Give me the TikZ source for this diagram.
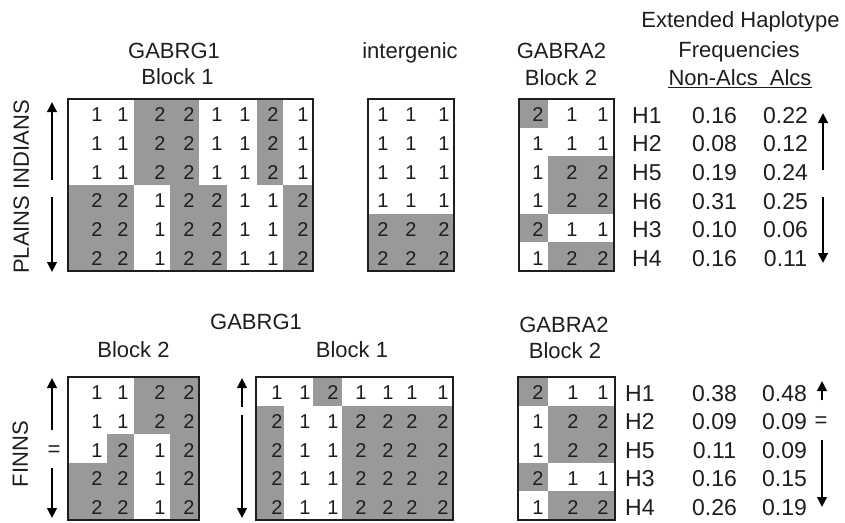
\documentclass[tikz,border=0pt]{standalone}
\usepackage{fontspec}
\setmainfont{Liberation Sans}
\usetikzlibrary{arrows.meta}
\definecolor{cellgray}{RGB}{153,153,153}
\definecolor{ink}{RGB}{30,30,30}

% #1 name, #2 top y, #3 column bounds, #4 digit x positions, #5 row height, #6 rows
\newcommand{\hapmatrix}[6]{%
  \foreach \rowvals [count=\r] in {#6} {%
    \foreach \v [count=\c] in \rowvals {%
      \pgfmathsetmacro{\xl}{{#3}[\c-1]}%
      \pgfmathsetmacro{\xr}{{#3}[\c]}%
      \pgfmathsetmacro{\xd}{{#4}[\c-1]}%
      \pgfmathsetmacro{\yt}{#2+(\r-1)*#5}%
      \pgfmathsetmacro{\yb}{#2+\r*#5}%
      \ifnum\v=2\relax \fill[cellgray] (\xl,\yt) rectangle (\xr,\yb);\fi
      \node[digit] (#1-\r-\c) at (\xd,{\yt+#5/2+1.5}) {\v};
    }%
  }%
}

\begin{document}
\begin{tikzpicture}[x=1pt,y=-1pt,
  digit/.style={font=\fontsize{20}{23}\selectfont, text=ink, inner sep=0pt,
    text height=14.3pt, text depth=0pt, anchor=center},
  title/.style={font=\fontsize{22}{26}\selectfont, text=ink, inner sep=0pt,
    text height=15.8pt, text depth=0pt, anchor=center},
  tab/.style={font=\fontsize{23}{27}\selectfont, text=ink, inner sep=0pt,
    text height=16.5pt, text depth=0pt},
  frame/.style={draw=ink, line width=1.5pt},
  arr/.style={draw=black, line width=2.8pt, -{Triangle[length=10pt,width=9.5pt]}},
]
\useasboundingbox (0,0) rectangle (845,522);

% ---------------- PLAINS INDIANS ----------------
\hapmatrix{pa}{99}{68,107,134,170,199,227,257,283,313}{97,123,160,189,217,245,273,303}{28.667}%
  {{1,1,2,2,1,1,2,1},{1,1,2,2,1,1,2,1},{1,1,2,2,1,1,2,1},{2,2,1,2,2,1,1,2},{2,2,1,2,2,1,1,2},{2,2,1,2,2,1,1,2}}
\draw[frame] (68,99) rectangle (313,271);

\hapmatrix{pb}{99}{368,397,425,454}{383,411,444}{28.667}%
  {{1,1,1},{1,1,1},{1,1,1},{1,1,1},{2,2,2},{2,2,2}}
\draw[frame] (368,99) rectangle (454,271);

\hapmatrix{pc}{99}{519,548,581,614}{538,572,603}{28.667}%
  {{2,1,1},{1,1,1},{1,2,2},{1,2,2},{2,1,1},{1,2,2}}
\draw[frame] (519,99) rectangle (614,271);

\node[title] (t1a) at (174,50.5) {GABRG1};
\node[title] (t1b) at (177.5,77) {Block 1};
\node[title] (t2) at (410,50.5) {intergenic};
\node[title] (t3a) at (561.5,50.5) {GABRA2};
\node[title] (t3b) at (561,77.5) {Block 2};

\node[title] (h1) at (740.5,20) {Extended Haplotype};
\node[title] (h2) at (739,49.5) {Frequencies};
\node[title] (h3) at (740,77.5) {Non-Alcs\hspace{6pt} Alcs};
\draw[ink, line width=1.2pt] ([yshift=-2.2pt]h3.south west) -- ([yshift=-2.2pt]h3.south east);

\node[title, rotate=90] (pil) at (21,187) {PLAINS INDIANS};

\foreach \h/\n/\a [count=\i] in {H1/0.16/0.22,H2/0.08/0.12,H5/0.19/0.24,H6/0.31/0.25,H3/0.10/0.06,H4/0.16/0.11} {
  \pgfmathsetmacro{\yy}{99+(\i-0.5)*28.667+1.5}
  \node[tab, anchor=west] (ph-\i) at (632,\yy) {\h};
  \node[tab, anchor=center] (pn-\i) at (714.5,\yy) {\n};
  \node[tab, anchor=center] (pa-\i) at (785.5,\yy) {\a};
}

\coordinate (piLu0) at (52,180); \coordinate (piLu1) at (52,102);
\coordinate (piLd0) at (52,197); \coordinate (piLd1) at (52,272);
\draw[arr] (piLu0) -- (piLu1);
\draw[arr] (piLd0) -- (piLd1);
\coordinate (piRu0) at (823,170); \coordinate (piRu1) at (823,113);
\coordinate (piRd0) at (823,197); \coordinate (piRd1) at (823,263);
\draw[arr] (piRu0) -- (piRu1);
\draw[arr] (piRd0) -- (piRd1);

% ---------------- FINNS ----------------
\hapmatrix{fa}{377}{68,107,134,170,199}{97,123,160,189}{28.6}%
  {{1,1,2,2},{1,1,2,2},{1,2,1,2},{2,2,1,2},{2,2,1,2}}
\draw[frame] (68,377) rectangle (199,520);

\hapmatrix{fb}{377}{256,284,313,342,370,398,425,453}{277,305,333,361,388,412,443}{28.6}%
  {{1,1,2,1,1,1,1},{2,1,1,2,2,2,2},{2,1,1,2,2,2,2},{2,1,1,2,2,2,2},{2,1,1,2,2,2,2}}
\draw[frame] (256,377) rectangle (453,520);

\hapmatrix{fc}{377}{518,548,581,615}{538,573,603}{28.6}%
  {{2,1,1},{1,2,2},{1,2,2},{2,1,1},{1,2,2}}
\draw[frame] (518,377) rectangle (615,520);

\node[title] (u1) at (256,321.5) {GABRG1};
\node[title] (u2) at (133.5,349.5) {Block 2};
\node[title] (u3) at (352,349.5) {Block 1};
\node[title] (u4a) at (564,324.5) {GABRA2};
\node[title] (u4b) at (565,350.5) {Block 2};

\node[title, rotate=90] (fil) at (20,454) {FINNS};
\node[title] (feq1) at (54,449) {=};

\foreach \h/\n/\a [count=\i] in {H1/0.38/0.48,H2/0.09/0.09,H5/0.11/0.09,H3/0.16/0.15,H4/0.26/0.19} {
  \pgfmathsetmacro{\yy}{377+(\i-0.5)*28.6+1.5}
  \node[tab, anchor=west] (fh-\i) at (625,\yy) {\h};
  \node[tab, anchor=center] (fn-\i) at (714.5,\yy) {\n};
  \node[tab, anchor=center] (fa-\i) at (784.5,\yy) {\a};
}
\node[title] (feq2) at (821,420) {=};

\coordinate (fLu0) at (52,430); \coordinate (fLu1) at (52,378);
\coordinate (fLd0) at (52,468); \coordinate (fLd1) at (52,518);
\draw[arr] (fLu0) -- (fLu1);
\draw[arr] (fLd0) -- (fLd1);
\coordinate (fMu0) at (242,407); \coordinate (fMu1) at (242,378);
\coordinate (fMd0) at (242,415); \coordinate (fMd1) at (242,518);
\draw[arr] (fMu0) -- (fMu1);
\draw[arr] (fMd0) -- (fMd1);
\coordinate (fRu0) at (822,400); \coordinate (fRu1) at (822,381);
\coordinate (fRd0) at (822,440); \coordinate (fRd1) at (822,507);
\draw[arr] (fRu0) -- (fRu1);
\draw[arr] (fRd0) -- (fRd1);
\end{tikzpicture}
\end{document}
